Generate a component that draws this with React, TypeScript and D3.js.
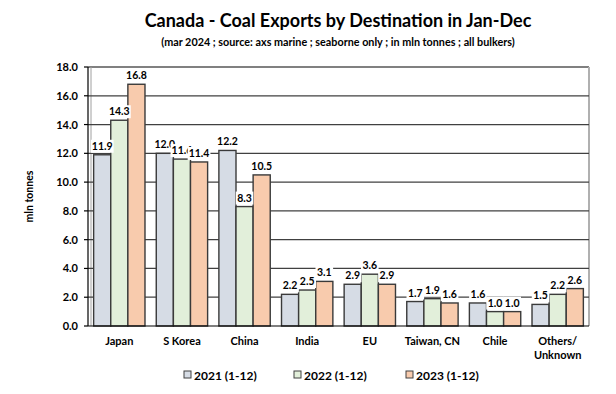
import React from "react";
import * as d3 from "d3";

const categories = ["Japan", "S Korea", "China", "India", "EU", "Taiwan, CN", "Chile", "Others/\nUnknown"];
const seriesNames = ["2021 (1-12)", "2022 (1-12)", "2023 (1-12)"];
const v2021 = [11.9, 12.0, 12.2, 2.2, 2.9, 1.7, 1.6, 1.5];
const v2022 = [14.3, 11.6, 8.3, 2.5, 3.6, 1.9, 1.0, 2.2];
const v2023 = [16.8, 11.4, 10.5, 3.1, 2.9, 1.6, 1.0, 2.6];
const yTicks = [0, 2, 4, 6, 8, 10, 12, 14, 16, 18];
const colors = ["#d6dce5", "#e2efda", "#f8cbad"];

const W = 616, H = 394;
const left = 88, right = 589, top = 67, bottom = 326;
const FONT = "Lato, 'Open Sans', sans-serif";

export default function App() {
  const series = [v2021, v2022, v2023];
  const x0 = d3.scaleBand<string>().domain(categories).range([left, right]).paddingInner(0.18).paddingOuter(0.09);
  const x1 = d3.scaleBand<number>().domain([0, 1, 2]).range([0, x0.bandwidth()]).padding(0);
  const y = d3.scaleLinear().domain([0, 18]).range([bottom, top]);

  const labels: { x: number; y: number; t: string }[] = [];
  categories.forEach((c, i) => {
    series.forEach((s, k) => {
      const bx = (x0(c) as number) + (x1(k) as number) + x1.bandwidth() / 2;
      labels.push({ x: bx, y: y(s[i]) - 5, t: s[i].toFixed(1) });
    });
  });

  return (
    <svg width={W} height={H} style={{ position: "absolute", left: 0, top: 0, background: "#fff" }} fontFamily={FONT}>
      <rect x={0} y={0} width={W} height={H} fill="#fff" />
      <text x={338} y={27} textAnchor="middle" fontWeight="bold" fontSize={18} fill="#000">Canada - Coal Exports by Destination in Jan-Dec</text>
      <text x={338} y={46} textAnchor="middle" fontWeight="bold" fontSize={10.8} fill="#000">(mar 2024 ; source: axs marine ; seaborne only ; in mln tonnes ; all bulkers)</text>

      {/* plot border */}
      <line x1={left} x2={right} y1={top} y2={top} stroke="#808080" strokeWidth={2} />
      <line x1={right} x2={right} y1={top} y2={bottom} stroke="#b0b0b0" strokeWidth={2} />
      <line x1={left + 3} x2={left + 3} y1={top} y2={bottom} stroke="#a0a0a0" strokeWidth={1} />

      {/* gridlines */}
      {yTicks.filter((t) => t > 0 && t < 18).map((t) => (
        <line key={t} x1={left} x2={right} y1={y(t)} y2={y(t)} stroke="#404040" strokeWidth={1.2} />
      ))}

      {/* bars */}
      {categories.map((c, i) => (
        <g key={c}>
          {series.map((s, k) => {
            const bx = (x0(c) as number) + (x1(k) as number);
            return (
              <rect key={k} x={bx} y={y(s[i])} width={x1.bandwidth()} height={bottom - y(s[i])}
                fill={colors[k]} stroke="#3a3a3a" strokeWidth={1.4} />
            );
          })}
        </g>
      ))}

      {/* value labels */}
      {labels.map((l, i) => {
        const w = l.t.length * 5.2 + 2;
        return (
          <g key={i}>
            <rect x={l.x - w / 2} y={l.y - 10} width={w} height={13} fill="#fff" />
            <text x={l.x} y={l.y} textAnchor="middle" fontWeight="bold" fontSize={10.5} fill="#000">{l.t}</text>
          </g>
        );
      })}

      {/* axes */}
      <line x1={left} x2={left} y1={top} y2={bottom} stroke="#000" strokeWidth={1.2} />
      <line x1={left} x2={right} y1={bottom} y2={bottom} stroke="#000" strokeWidth={1.2} />
      {yTicks.map((t) => (
        <g key={t}>
          <line x1={left - 4} x2={left} y1={y(t)} y2={y(t)} stroke="#000" strokeWidth={1.2} />
          <text x={left - 10} y={y(t) + 4} textAnchor="end" fontWeight="bold" fontSize={11} fill="#000">{t.toFixed(1)}</text>
        </g>
      ))}
      <text transform={`translate(33,${(top + bottom) / 2}) rotate(-90)`} textAnchor="middle" fontWeight="bold" fontSize={10.5} fill="#000">mln tonnes</text>

      {categories.map((c) => {
        const cx = (x0(c) as number) + x0.bandwidth() / 2;
        const lines = c.split("\n");
        return (
          <text key={c} x={cx} y={345} textAnchor="middle" fontWeight="bold" fontSize={11} fill="#000">
            {lines.map((ln, j) => (
              <tspan key={j} x={cx} dy={j === 0 ? 0 : 14}>{ln}</tspan>
            ))}
          </text>
        );
      })}

      {/* legend */}
      {seriesNames.map((n, k) => {
        const lx = [184, 294, 406][k];
        return (
          <g key={n}>
            <rect x={lx} y={371} width={7} height={7} fill={colors[k]} stroke="#404040" strokeWidth={1} />
            <text x={lx + 10} y={380} fontWeight="bold" fontSize={12} fill="#000">{n}</text>
          </g>
        );
      })}
    </svg>
  );
}
